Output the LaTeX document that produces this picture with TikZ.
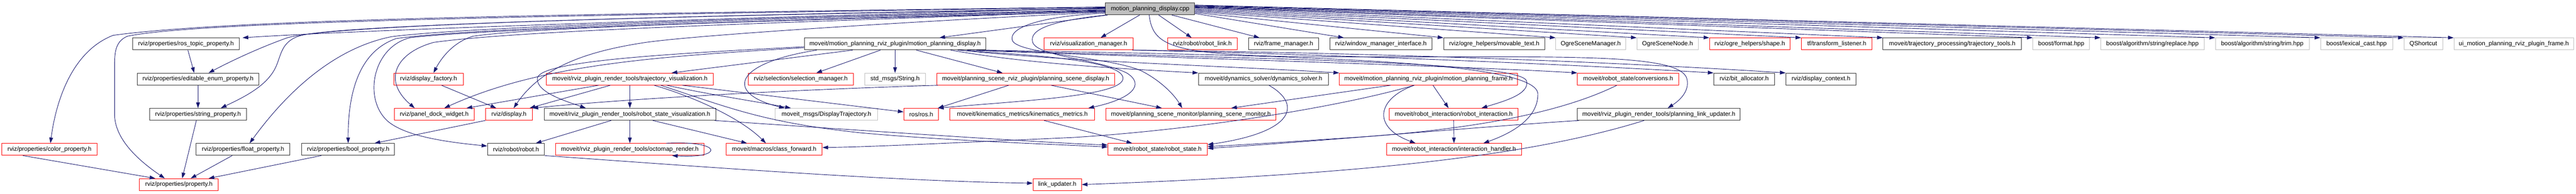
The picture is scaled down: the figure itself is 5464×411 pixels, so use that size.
\documentclass[tikz,border=0pt]{standalone}
\usepackage{fontspec}
\setmainfont{Liberation Sans}
\usetikzlibrary{arrows.meta}
\definecolor{edgec}{HTML}{191970}
\definecolor{boxgray}{HTML}{BFBFBF}
\begin{document}
\begin{tikzpicture}[x=1pt,y=-1pt,
  box/.style={rectangle, minimum height=25.3pt, inner sep=0pt, line width=1pt, font=\fontsize{13}{15}\selectfont, text=black},
  bk/.style={box, draw=black!80},
  rd/.style={box, draw=red},
  gy/.style={box, draw=boxgray},
  edge/.style={draw=edgec, line width=1pt, -{Triangle[length=12pt,width=8pt]}}]
\fill[white] (0,0) rectangle (5464,411);
\useasboundingbox (0,0) rectangle (5464,411);
% row 0
\node[bk, fill=boxgray, minimum width=189pt] (root) at (2439.5,18.7) {motion\_planning\_display.cpp};
% row 1
\node[bk, minimum width=227pt] (rostopic) at (394.5,93.3) {rviz/properties/ros\_topic\_property.h};
\node[bk, minimum width=385pt] (mpdh) at (1898.5,93.3) {moveit/motion\_planning\_rviz\_plugin/motion\_planning\_display.h};
\node[rd, minimum width=188pt] (vizman) at (2309,93.3) {rviz/visualization\_manager.h};
\node[rd, minimum width=147pt] (robotlink) at (2550.5,93.3) {rviz/robot/robot\_link.h};
\node[bk, minimum width=149pt] (frameman) at (2722.5,93.3) {rviz/frame\_manager.h};
\node[bk, minimum width=216pt] (winman) at (2929,93.3) {rviz/window\_manager\_interface.h};
\node[bk, minimum width=215pt] (movtext) at (3169.5,93.3) {rviz/ogre\_helpers/movable\_text.h};
\node[gy, minimum width=148pt] (ogresm) at (3374,93.3) {OgreSceneManager.h};
\node[gy, minimum width=130pt] (ogresn) at (3537,93.3) {OgreSceneNode.h};
\node[rd, minimum width=171pt] (shape) at (3711.5,93.3) {rviz/ogre\_helpers/shape.h};
\node[rd, minimum width=150pt] (tf) at (3896,93.3) {tf/transform\_listener.h};
\node[bk, minimum width=294pt] (trajtools) at (4141,93.3) {moveit/trajectory\_processing/trajectory\_tools.h};
\node[gy, minimum width=120pt] (bformat) at (4372,93.3) {boost/format.hpp};
\node[gy, minimum width=219pt] (breplace) at (4565.5,93.3) {boost/algorithm/string/replace.hpp};
\node[gy, minimum width=199pt] (btrim) at (4798.5,93.3) {boost/algorithm/string/trim.hpp};
\node[gy, minimum width=153pt] (blex) at (4998.5,93.3) {boost/lexical\_cast.hpp};
\node[gy, minimum width=82pt] (qshort) at (5140,93.3) {QShortcut};
\node[gy, minimum width=254pt] (uiframe) at (5332,93.3) {ui\_motion\_planning\_rviz\_plugin\_frame.h};
% row 2
\node[bk, minimum width=258pt] (editenum) at (420,168) {rviz/properties/editable\_enum\_property.h};
\node[rd, minimum width=148pt] (dispfact) at (909,168) {rviz/display\_factory.h};
\node[rd, minimum width=354pt] (trajviz) at (1336,168) {moveit/rviz\_plugin\_render\_tools/trajectory\_visualization.h};
\node[rd, minimum width=223pt] (selman) at (1698.5,168) {rviz/selection/selection\_manager.h};
\node[gy, minimum width=129pt] (stdstring) at (1898.5,168) {std\_msgs/String.h};
\node[rd, minimum width=377pt] (psdisp) at (2175.5,168) {moveit/planning\_scene\_rviz\_plugin/planning\_scene\_display.h};
\node[bk, minimum width=276pt] (dynsolver) at (2680,168) {moveit/dynamics\_solver/dynamics\_solver.h};
\node[rd, minimum width=378pt] (mpframe) at (3030,168) {moveit/motion\_planning\_rviz\_plugin/motion\_planning\_frame.h};
\node[rd, minimum width=215pt] (conv) at (3453.5,168) {moveit/robot\_state/conversions.h};
\node[bk, minimum width=129pt] (bitalloc) at (3699.5,168) {rviz/bit\_allocator.h};
\node[bk, minimum width=149pt] (dispctx) at (3862.5,168) {rviz/display\_context.h};
% row 3
\node[bk, minimum width=206pt] (strprop) at (420,242.7) {rviz/properties/string\_property.h};
\node[rd, minimum width=170pt] (panel) at (921,242.7) {rviz/panel\_dock\_widget.h};
\node[rd, minimum width=99pt] (display) at (1079.5,242.7) {rviz/display.h};
\node[bk, minimum width=364pt] (rsviz) at (1336,242.7) {moveit/rviz\_plugin\_render\_tools/robot\_state\_visualization.h};
\node[gy, minimum width=218pt] (disptraj) at (1753,242.7) {moveit\_msgs/DisplayTrajectory.h};
\node[rd, minimum width=74pt] (ros) at (1954,242.7) {ros/ros.h};
\node[rd, minimum width=307pt] (kinmet) at (2168.5,242.7) {moveit/kinematics\_metrics/kinematics\_metrics.h};
\node[rd, minimum width=360pt] (psmon) at (2526,242.7) {moveit/planning\_scene\_monitor/planning\_scene\_monitor.h};
\node[rd, minimum width=273pt] (robint) at (3083.5,242.7) {moveit/robot\_interaction/robot\_interaction.h};
\node[bk, minimum width=345pt] (plu) at (3518.5,242.7) {moveit/rviz\_plugin\_render\_tools/planning\_link\_updater.h};
% row 4
\node[rd, minimum width=202pt] (colorprop) at (105,317.3) {rviz/properties/color\_property.h};
\node[bk, minimum width=199pt] (floatprop) at (515.5,317.3) {rviz/properties/float\_property.h};
\node[bk, minimum width=197pt] (boolprop) at (738.5,317.3) {rviz/properties/bool\_property.h};
\node[bk, minimum width=121pt] (robot) at (1094.5,317.3) {rviz/robot/robot.h};
\node[rd, minimum width=314pt] (octo) at (1336,317.3) {moveit/rviz\_plugin\_render\_tools/octomap\_render.h};
\node[rd, minimum width=204pt] (classfwd) at (1642,317.3) {moveit/macros/class\_forward.h};
\node[rd, minimum width=211pt] (rstate) at (2455.5,317.3) {moveit/robot\_state/robot\_state.h};
\node[rd, minimum width=286pt] (ihandler) at (3084,317.3) {moveit/robot\_interaction/interaction\_handler.h};
% row 5
\node[rd, minimum width=167pt] (property) at (379.5,392) {rviz/properties/property.h};
\node[rd, minimum width=103pt] (linkupd) at (2242.5,392) {link\_updater.h};

% ---- edges from root, to the left
\draw[edge] ([yshift=4pt]root.west) .. controls (1200,30) and (500,40) .. (240,75) .. controls (150,110) and (118,220) .. ([xshift=2pt]colorprop.north);
\draw[edge] ([yshift=3pt]root.west) .. controls (1200,32) and (420,45) .. (270,77) .. controls (245,88) and (243,110) .. (243,140) -- (243,245) .. controls (245,300) and (300,345) .. ([xshift=-30pt]property.north);
\draw[edge] ([yshift=2pt]root.west) .. controls (1500,40) and (800,62) .. ([xshift=6pt]rostopic.north east);
\draw[edge] ([yshift=1pt]root.west) .. controls (1300,35) and (700,55) .. (610,80) .. controls (540,105) and (480,135) .. ([xshift=152pt]editenum.north west);
\draw[edge] (root.west) .. controls (1100,38) and (700,60) .. (640,75) .. controls (600,85) and (597,112) .. (588,135) .. controls (572,180) and (520,205) .. ([xshift=152pt]strprop.north west);
\draw[edge] ([yshift=-2pt]root.west) .. controls (1400,42) and (950,62) .. (830,78) .. controls (720,100) and (620,180) .. ([xshift=114pt]floatprop.north west);
\draw[edge] ([yshift=-3pt]root.west) .. controls (1400,45) and (950,65) .. (840,82) .. controls (760,110) and (738,200) .. (boolprop.north);
\draw[edge] ([yshift=-4pt]root.west) .. controls (1400,50) and (1000,65) .. (870,80) .. controls (790,100) and (770,210) .. (822,257) .. controls (860,290) and (950,302) .. ([yshift=-6pt]robot.north west);
\draw[edge] ([yshift=-5pt]root.west) .. controls (1600,50) and (1100,65) .. (920,90) .. controls (840,112) and (810,170) .. ([xshift=44pt]panel.north west);
\draw[edge] ([yshift=-6pt]root.west) .. controls (1800,40) and (1150,55) .. (1003,77) .. controls (960,90) and (935,125) .. ([xshift=85pt]dispfact.north west);
\draw[edge] ([yshift=-7pt]root.west) .. controls (2000,42) and (1500,72) .. (1370,90) .. controls (1250,108) and (1150,140) .. ([xshift=60pt]display.north west);
\draw[edge] ([xshift=5pt]root.south west) -- ([xshift=287pt]mpdh.north west);
\draw[edge] ([yshift=-9pt]root.west) .. controls (2200,35) and (2140,60) .. (2147,85) .. controls (2155,115) and (2350,120) .. (2420,150) .. controls (2460,170) and (2490,200) .. ([xshift=162pt]psmon.north west);
\draw[edge] ([xshift=3pt]root.south west) .. controls (2220,45) and (2185,65) .. (2190,88) .. controls (2195,120) and (2330,125) .. (2390,155) .. controls (2430,180) and (2400,210) .. ([xshift=-14pt]kinmet.north east);
% ---- edges from root, downwards and to the right
\draw[edge] ([xshift=-22pt]root.south) -- ([xshift=120pt]vizman.north west);
\draw[edge] ([xshift=18pt]root.south) -- ([xshift=51pt]robotlink.north west);
\draw[edge] ([xshift=46pt]root.south) -- ([xshift=24pt]frameman.north west);
\draw[edge] ([xshift=-2pt]root.south) .. controls (2445,95) and (2480,115) .. (2735,120) .. controls (3250,125) and (3560,105) .. (3578,167) .. controls (3585,195) and (3560,215) .. ([xshift=192pt]plu.north west);
\draw[edge] ([yshift=-10pt]root.east) -- ([xshift=30pt]winman.north west);
\draw[edge] ([yshift=-8pt]root.east) -- (movtext.north west);
\draw[edge] ([yshift=-6pt]root.east) -- (ogresm.north west);
\draw[edge] ([yshift=-4pt]root.east) -- (ogresn.north west);
\draw[edge] ([yshift=-2pt]root.east) -- (shape.north west);
\draw[edge] (root.east) -- (tf.north west);
\draw[edge] ([yshift=2pt]root.east) -- (trajtools.north west);
\draw[edge] ([yshift=3pt]root.east) -- (bformat.north west);
\draw[edge] ([yshift=4pt]root.east) -- (breplace.north west);
\draw[edge] ([yshift=5pt]root.east) -- (btrim.north west);
\draw[edge] ([yshift=6pt]root.east) -- (blex.north west);
\draw[edge] ([yshift=7pt]root.east) -- (qshort.north west);
\draw[edge] ([yshift=8pt]root.east) -- (uiframe.north west);
% ---- edges from motion_planning_display.h
\draw[edge] ([xshift=-31pt]mpdh.south) -- ([xshift=145pt]selman.north west);
\draw[edge] ([xshift=-90pt]mpdh.south) -- ([xshift=266pt]trajviz.north west);
\draw[edge] ([xshift=-166pt]mpdh.south) .. controls (1550,135) and (1540,200) .. ([xshift=21pt]disptraj.north west);
\draw[edge] (mpdh.south) -- (stdstring.north);
\draw[edge] ([xshift=45pt]mpdh.south) -- ([xshift=140pt]psdisp.north west);
\draw[edge] ([yshift=-8pt]mpdh.west) .. controls (1400,120) and (1150,135) .. ([xshift=107pt]panel.north west);
\draw[edge] ([yshift=-6pt]mpdh.west) .. controls (1400,115) and (1150,130) .. (1140,165) .. controls (1135,195) and (1200,215) .. ([xshift=89pt]rsviz.north west);
\draw[edge] ([xshift=-60pt]mpdh.south east) .. controls (2150,115) and (2385,125) .. (2382,167) .. controls (2380,205) and (2150,215) .. ([xshift=-2pt]ros.north east);
\draw[edge] ([xshift=-75pt]mpdh.south east) .. controls (2150,130) and (2300,142) .. (dynsolver.north west);
\draw[edge] ([xshift=-55pt]mpdh.south east) .. controls (2250,130) and (2600,140) .. (mpframe.north west);
\draw[edge] ([xshift=-40pt]mpdh.south east) .. controls (2400,120) and (3100,140) .. (conv.north west);
\draw[edge] ([xshift=-20pt]mpdh.south east) .. controls (2600,125) and (3225,128) .. (3238,172) .. controls (3245,200) and (3190,215) .. ([xshift=196pt]robint.north west);
\draw[edge] ([xshift=-10pt]mpdh.south east) .. controls (2700,118) and (3262,125) .. (3262,200) .. controls (3262,255) and (3200,285) .. ([xshift=206pt]ihandler.north west);
% ---- visualization manager
\draw[edge] ([xshift=-2pt]vizman.south east) .. controls (2800,115) and (3300,135) .. (bitalloc.north west);
\draw[edge] (vizman.south east) .. controls (2900,112) and (3400,130) .. (dispctx.north west);
% ---- properties
\draw[edge] ([xshift=4pt]rostopic.south) -- ([xshift=-8pt]editenum.north);
\draw[edge] (editenum.south) -- (strprop.north);
\draw[edge] ([xshift=100pt]strprop.south west) -- ([xshift=91pt]property.north west);
\draw[edge] ([xshift=45pt]colorprop.south west) -- ([xshift=34pt]property.north west);
\draw[edge] ([xshift=77pt]floatprop.south west) -- ([xshift=109pt]property.north west);
\draw[edge] ([xshift=42pt]boolprop.south west) -- ([xshift=147pt]property.north west);
% ---- display etc
\draw[edge] (display.south west) -- ([xshift=155pt]boolprop.north west);
\draw[edge] ([xshift=102pt]dispfact.south west) -- ([xshift=23pt]display.north west);
\draw[edge] ([xshift=3pt]psdisp.south west) .. controls (1700,190) and (1350,208) .. (display.north east);
\draw[edge] ([xshift=153pt]psdisp.south west) -- ([xshift=-2pt]ros.north east);
\draw[edge] ([xshift=243pt]psdisp.south west) -- ([xshift=119pt]psmon.north west);
% ---- trajectory visualization
\draw[edge] ([xshift=111pt]trajviz.south west) -- ([xshift=154pt]panel.north west);
\draw[edge] ([xshift=136pt]trajviz.south west) -- ([xshift=-6pt]display.north east);
\draw[edge] (trajviz.south) -- (rsviz.north);
\draw[edge] ([xshift=229pt]trajviz.south west) .. controls (1470,205) and (1570,250) .. ([xshift=85pt]classfwd.north west);
\draw[edge] ([xshift=256pt]trajviz.south west) .. controls (1500,200) and (1600,215) .. ([xshift=34pt]disptraj.north west);
\draw[edge] ([xshift=243pt]trajviz.south west) .. controls (1550,230) and (1620,260) .. (1825,282) .. controls (2000,298) and (2200,305) .. ([yshift=-8pt]rstate.north west);
\draw[edge] ([xshift=289pt]trajviz.south west) -- ([yshift=5pt]ros.west);
% ---- robot state visualization
\draw[edge] ([xshift=143pt]rsviz.south west) -- ([xshift=103pt]robot.north west);
\draw[edge] (rsviz.south) -- (octo.north);
\draw[edge] ([xshift=231pt]rsviz.south west) -- ([xshift=45pt]classfwd.north west);
\draw[edge] ([xshift=-3pt]rsviz.south east) .. controls (1900,282) and (2200,302) .. ([yshift=-4pt]rstate.north west);
\draw[edge] ([xshift=-80pt]octo.north east) .. controls (1535,298) and (1535,337) .. ([xshift=-68pt]octo.south east);
\draw[edge] (robot.south east) .. controls (1500,355) and (1900,385) .. ([yshift=3pt]linkupd.west);
% ---- robot state and friends
\draw[edge] ([xshift=200pt]kinmet.south west) -- ([xshift=52pt]rstate.north west);
\draw[edge] ([xshift=150pt]dynsolver.south west) .. controls (2760,220) and (2750,280) .. ([yshift=-3pt]rstate.north east);
\draw[edge] ([xshift=84pt]conv.south west) .. controls (3300,245) and (3100,275) .. (2900,290) .. controls (2750,300) and (2650,307) .. ([yshift=-7pt]rstate.north east);
\draw[edge] ([xshift=4pt]plu.south west) .. controls (3100,272) and (2800,300) .. ([yshift=-11pt]rstate.north east);
\draw[edge] ([xshift=159pt]mpframe.south west) .. controls (2850,225) and (2550,275) .. (2275,292) .. controls (2050,302) and (1850,312) .. ([yshift=4pt]classfwd.east);
\draw[edge] ([xshift=109pt]mpframe.south west) -- ([xshift=266pt]psmon.north west);
\draw[edge] ([xshift=199pt]mpframe.south west) -- ([xshift=126pt]robint.north west);
\draw[edge] ([xshift=159pt]mpframe.south west) .. controls (2920,210) and (2910,270) .. ([xshift=62pt]ihandler.north west);
\draw[edge] (robint.south) -- (ihandler.north);
\draw[edge] ([xshift=142pt]plu.south west) .. controls (3250,330) and (2900,370) .. (linkupd.east);
\end{tikzpicture}
\end{document}
